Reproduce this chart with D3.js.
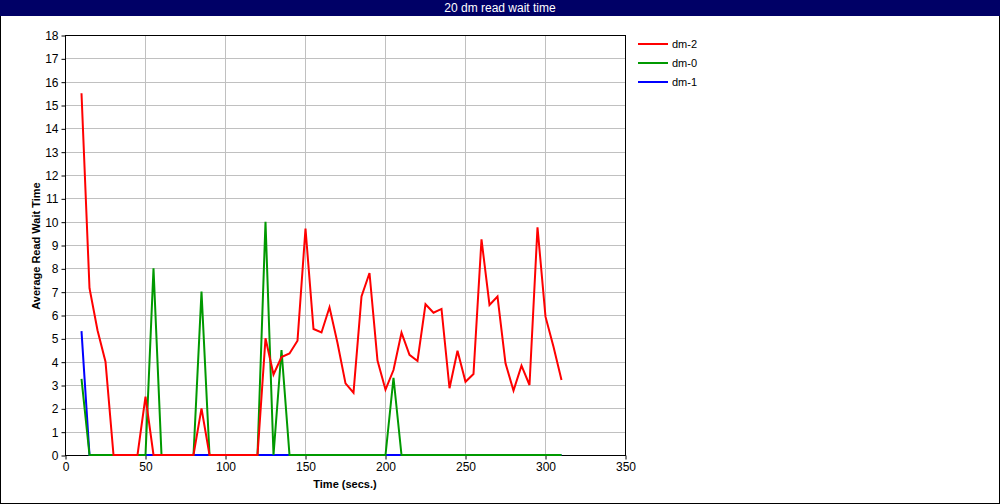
<!DOCTYPE html>
<html><head><meta charset="utf-8">
<script src="https://cdn.jsdelivr.net/npm/d3@7"></script>
<style>
html,body{margin:0;padding:0;background:#fff;}
svg{display:block;}
text{font-family:"Liberation Sans",Arial,sans-serif;}
</style></head><body>
<script>
const title = "20 dm read wait time";
const times = d3.range(10, 311, 5);
const dm2 = [15.5,7.15,5.35,4.0,0,0,0,0,2.5,0,0,0,0,0,0,2.0,0,0,0,0,0,0,0,5.0,3.45,4.2,4.35,4.9,9.7,5.4,5.25,6.33,4.8,3.07,2.67,6.8,7.8,4.05,2.8,3.64,5.24,4.29,4.03,6.46,6.1,6.26,2.86,4.47,3.14,3.47,9.24,6.43,6.79,3.93,2.76,3.83,3.0,9.76,5.93,4.64,3.21];
const dm0 = [3.26,0,0,0,0,0,0,0,0,8.0,0,0,0,0,0,7.0,0,0,0,0,0,0,0,10.0,0,4.5,0,0,0,0,0,0,0,0,0,0,0,0,0,3.31,0,0,0,0,0,0,0,0,0,0,0,0,0,0,0,0,0,0,0,0,0];
const dm1 = [5.31,0,0,0,0,0,0,0,0,0,0,0,0,0,0,0,0,0,0,0,0,0,0,0,0,0,0,0,0,0,0,0,0,0,0,0,0,0,0,0,0,0,0,0,0,0,0,0,0,0,0,0,0,0,0,0,0,0,0,0,0];
const seriesNames = ["dm-2","dm-0","dm-1"];
const seriesColors = ["#ff0000","#009900","#0000ff"];
const xTicks = [0,50,100,150,200,250,300,350];
const yTicks = d3.range(0,19,1);
const xLabel = "Time (secs.)";
const yLabel = "Average Read Wait Time";

const W=1000,H=504;
const svg=d3.select("body").append("svg").attr("width",W).attr("height",H);
svg.append("rect").attr("x",0.5).attr("y",0.5).attr("width",W-1).attr("height",H-1).attr("fill","#fff").attr("stroke","#000");
svg.append("rect").attr("x",0).attr("y",0).attr("width",W).attr("height",16).attr("fill","#000066");
svg.append("text").attr("x",W/2).attr("y",12).attr("text-anchor","middle").attr("fill","#fff").attr("font-size",12).text(title);

const x=d3.scaleLinear().domain([0,350]).range([65,625]);
const y=d3.scaleLinear().domain([0,18]).range([455,35]);

const g=svg.append("g");
g.selectAll(".gx").data(xTicks.slice(1,-1)).join("line").attr("x1",d=>x(d)+0.5).attr("x2",d=>x(d)+0.5).attr("y1",y(18)).attr("y2",y(0)).attr("stroke","#c0c0c0");
g.selectAll(".gy").data(yTicks.slice(1,-1)).join("line").attr("y1",d=>Math.round(y(d))+0.5).attr("y2",d=>Math.round(y(d))+0.5).attr("x1",x(0)).attr("x2",x(350)).attr("stroke","#c0c0c0");
g.append("rect").attr("x",x(0)+0.5).attr("y",y(18)+0.5).attr("width",x(350)-x(0)).attr("height",y(0)-y(18)).attr("fill","none").attr("stroke","#000");

const xAxis=svg.append("g").attr("transform",`translate(0.5,${y(0)+0.5})`).call(d3.axisBottom(x).tickValues(xTicks).tickSize(4).tickPadding(3).tickFormat(d3.format("d")));
const yAxis=svg.append("g").attr("transform",`translate(${x(0)+0.5},0.5)`).call(d3.axisLeft(y).tickValues(yTicks).tickSize(4).tickPadding(3).tickFormat(d3.format("d")));
[xAxis,yAxis].forEach(a=>{a.select(".domain").remove();a.selectAll("text").attr("font-size",12).attr("fill","#000").attr("font-family","Liberation Sans, Arial, sans-serif");a.selectAll("line").attr("stroke","#000");});

svg.append("text").attr("x",345).attr("y",488).attr("text-anchor","middle").attr("font-size",11).attr("font-weight","bold").text(xLabel);
svg.append("text").attr("transform","translate(40,246) rotate(-90)").attr("text-anchor","middle").attr("font-size",11).attr("font-weight","bold").text(yLabel);

const data=[dm2,dm0,dm1];
const line=d3.line().x((d,i)=>x(times[i])+0.5).y(d=>y(d));
[2,1,0].forEach(k=>{
  svg.append("path").datum(data[k]).attr("d",line).attr("fill","none").attr("stroke",seriesColors[k]).attr("stroke-width",2).attr("stroke-linejoin","miter");
});

const lg=svg.append("g");
seriesNames.forEach((n,i)=>{
  const yy=44+i*19;
  lg.append("line").attr("x1",638).attr("x2",668).attr("y1",yy).attr("y2",yy).attr("stroke",seriesColors[i]).attr("stroke-width",2);
  lg.append("text").attr("x",672).attr("y",yy+4).attr("font-size",11).text(n);
});
</script>
</body></html>
